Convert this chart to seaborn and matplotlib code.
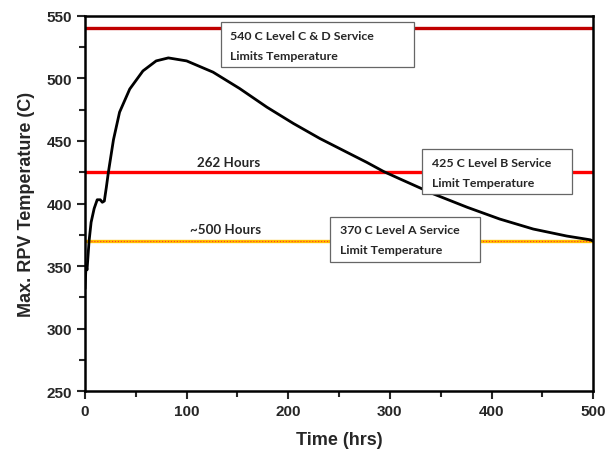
import numpy as np
import matplotlib
matplotlib.use("Agg")
import matplotlib.pyplot as plt
from matplotlib.patches import Rectangle
import seaborn as sns

time_hrs = [0, 1, 2, 4, 6, 9, 12, 15, 17, 19, 21, 23, 28, 34, 44, 57, 70, 82,
            100, 126, 152, 179, 205, 231, 260, 277, 294, 310, 343, 376, 408,
            441, 474, 497, 500]
temp_c = [332, 350, 347, 370, 385, 396, 403, 403, 401, 402, 413, 425, 451,
          473, 491.5, 506, 514, 516.4, 514, 505, 492, 477, 464, 452, 440, 433,
          425.5, 419.6, 407.6, 397, 387.6, 379.6, 374, 371, 370]

limits = [540, 425, 370]
limit_colors = ["#c00000", "#ff0000", "#ffc000"]
limit_texts = ["540 C Level C & D Service\nLimits Temperature",
               "425 C Level B Service\nLimit Temperature",
               "370 C Level A Service\nLimit Temperature"]
hour_labels = ["262 Hours", "~500 Hours"]

# layout (data coords)
text_pos = [(143, 526.5), (341, 425), (251, 371.5)]
box_rects = [(133.5, 509, 189.7, 36.4), (332, 407.5, 147, 36), (241, 353.3, 148, 36.3)]
hour_pos = [(141, 433), (138, 380)]

sns.set_style("ticks")
fig = plt.figure(figsize=(6.16, 4.56), dpi=100)
ax = fig.add_axes([0.138, 0.140, 0.825, 0.823])

for y, c in zip(limits, limit_colors):
    ax.axhline(y, color=c, lw=2.4, zorder=2)
ax.axhline(limits[2], color="#ff3030", lw=0.8, ls=":", zorder=2.1)

sns.lineplot(x=time_hrs, y=temp_c, color="black", lw=2, ax=ax, zorder=3)

for (x, y, w, h) in box_rects:
    ax.add_patch(Rectangle((x, y), w, h, fc="white", ec="#666666", lw=0.9, zorder=4))
for txt, (x, y) in zip(limit_texts, text_pos):
    ax.text(x, y, txt, fontsize=8.9, fontweight="bold", family="Lato",
            va="center", ha="left", linespacing=2.0, zorder=5)
for txt, (x, y) in zip(hour_labels, hour_pos):
    ax.text(x, y, txt, fontsize=9.6, fontweight="bold", family="Lato",
            ha="center", va="center", zorder=5)

ax.set_xlim(0, 500)
ax.set_ylim(250, 550)
ax.set_xticks(np.arange(0, 501, 100))
ax.set_yticks(np.arange(250, 551, 50))
ax.set_xticks(np.arange(50, 500, 100), minor=True)
ax.set_yticks(np.arange(275, 550, 50), minor=True)
ax.tick_params(which="major", length=6, width=1.5, direction="out")
ax.tick_params(which="minor", length=4, width=1.5, direction="out")
for lab in ax.get_xticklabels() + ax.get_yticklabels():
    lab.set_fontweight("bold")
    lab.set_fontsize(11)
    lab.set_family("Liberation Sans")
for sp in ax.spines.values():
    sp.set_linewidth(1.8)
    sp.set_color("black")

ax.set_xlabel("Time (hrs)", fontsize=13, fontweight="bold",
              family="Liberation Sans", labelpad=9)
ax.set_ylabel("Max. RPV Temperature (C)", fontsize=13, fontweight="bold",
              family="Liberation Sans", labelpad=8)

fig.savefig("out.png", dpi=100)
plt.close()
